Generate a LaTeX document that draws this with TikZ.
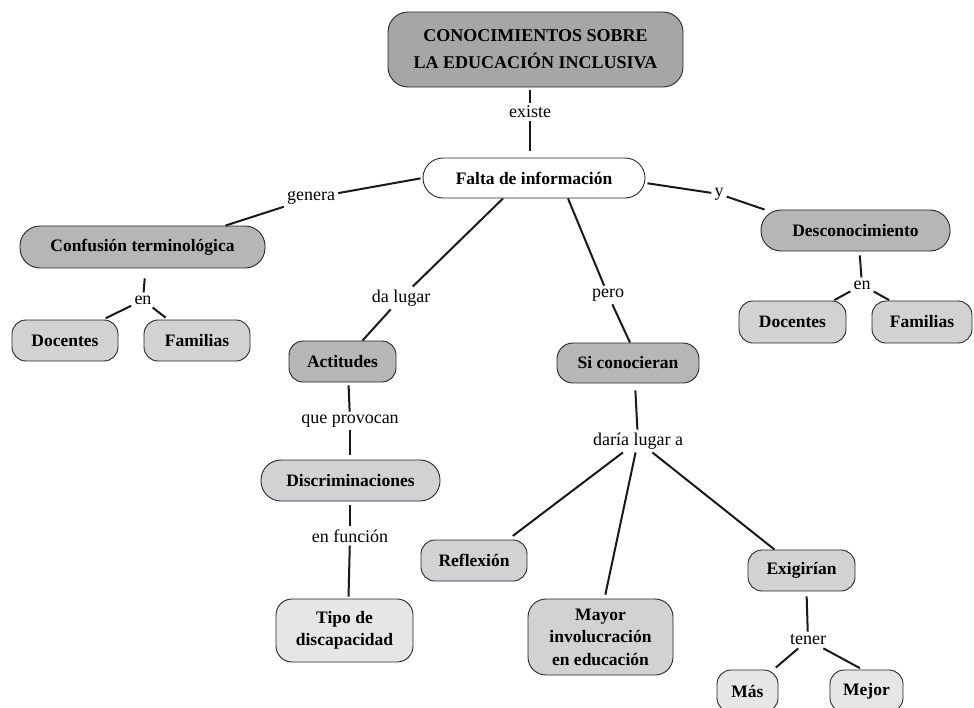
\documentclass[tikz,border=0pt]{standalone}
\usepackage{fontspec}
\setmainfont{Liberation Serif}
\definecolor{lvA}{HTML}{A6A6A8}
\definecolor{lvB}{HTML}{B6B6B8}
\definecolor{lvC}{HTML}{D2D2D4}
\definecolor{lvD}{HTML}{E6E6E8}
\begin{document}
\begin{tikzpicture}[x=1pt,y=-1pt,
  box/.style={draw=black!85, line width=0.9pt, rounded corners=#1, align=center, inner sep=0pt,
     font=\fontsize{17.5}{22.5}\selectfont\bfseries},
  box/.default=14pt,
  lbl/.style={inner sep=3pt, font=\fontsize{18}{20}\selectfont},
  con/.style={line width=2pt, black!90}
]
\useasboundingbox (0,0) rectangle (974,707);
\clip (0,0) rectangle (974,707);
% concepts
\node[box=20pt, fill=lvA, minimum width=295, minimum height=75, font=\fontsize{18}{27}\selectfont\bfseries] (top) at (535.5,49.5) {CONOCIMIENTOS SOBRE\\LA EDUCACIÓN INCLUSIVA};
\node[box=20pt, fill=white, minimum width=222, minimum height=40] (falta) at (534,178) {Falta de información};
\node[box=20pt, fill=lvB, minimum width=245, minimum height=42] (conf) at (142.5,247) {Confusión terminológica};
\node[box, fill=lvC, minimum width=106, minimum height=41] (doca) at (65,340.5) {Docentes};
\node[box, fill=lvC, minimum width=106, minimum height=41] (fama) at (197,340.5) {Familias};
\node[box, fill=lvB, minimum width=107, minimum height=41] (act) at (342.5,361.5) {Actitudes};
\node[box=20pt, fill=lvC, minimum width=179, minimum height=41] (discr) at (350.5,480.5) {Discriminaciones};
\node[box=16pt, fill=lvD, minimum width=137, minimum height=63] (tipo) at (344.5,630.5) {Tipo de\\discapacidad};
\node[box=16pt, fill=lvB, minimum width=142, minimum height=40] (sicon) at (628,363) {Si conocieran};
\node[box, fill=lvC, minimum width=106, minimum height=41] (refl) at (474,560.5) {Reflexión};
\node[box=18pt, fill=lvC, minimum width=145, minimum height=76] (mayor) at (600.5,637) {Mayor\\involucración\\en educación};
\node[box, fill=lvC, minimum width=107, minimum height=41] (exig) at (801.5,570.5) {Exigirían};
\node[box, fill=lvD, minimum width=61, minimum height=42] (mas) at (747.5,691) {Más};
\node[box, fill=lvD, minimum width=73, minimum height=42] (mejor) at (866.5,691) {Mejor};
\node[box=20pt, fill=lvB, minimum width=189, minimum height=41] (desc) at (855.5,230.5) {Desconocimiento};
\node[box, fill=lvC, minimum width=107, minimum height=42] (docb) at (792.5,322) {Docentes};
\node[box, fill=lvC, minimum width=100, minimum height=42] (famb) at (922,322) {Familias};
% link labels
\node[lbl] (existe) at (530,112) {existe};
\node[lbl] (genera) at (311,198) {genera};
\node[lbl] (dalugar) at (401,298) {da lugar};
\node[lbl] (pero) at (608,295) {pero};
\node[lbl] (ylbl) at (719,194) {y};
\node[lbl] (ena) at (143,300) {en};
\node[lbl] (enb) at (862,285) {en};
\node[lbl] (queprov) at (350,421) {que provocan};
\node[lbl] (enfun) at (350,536) {en función};
\node[lbl] (daria) at (638,441) {daría lugar a};
\node[lbl] (tener) at (808,640) {tener};
% connectors
\draw[con, shorten <=3pt] (top.south -| existe) -- (existe);
\draw[con, shorten >=7pt] (existe) -- (falta.north -| existe);
\draw[con, shorten <=2pt] (falta.west) -- (genera);
\draw[con] (genera) -- ([xshift=83pt]conf.north);
\draw[con] ([xshift=-31pt]falta.south) -- (dalugar);
\draw[con] (dalugar) -- ([xshift=20pt]act.north);
\draw[con] ([xshift=34pt]falta.south) -- (pero);
\draw[con] (pero) -- ([xshift=2pt]sicon.north);
\draw[con, shorten <=2pt] ([yshift=-5pt]falta.east) -- (ylbl);
\draw[con] (ylbl) -- ([xshift=4pt]desc.north west);
\draw[con, shorten <=10pt] ([xshift=3pt]conf.south) -- (ena);
\draw[con, shorten >=3pt] (ena) -- ([xshift=38pt]doca.north);
\draw[con, shorten >=3pt] (ena) -- ([xshift=-29pt]fama.north);
\draw[con, shorten <=3pt] ([xshift=6pt]act.south) -- (queprov);
\draw[con, shorten >=5pt] (queprov) -- (discr.north -| queprov);
\draw[con, shorten <=4pt] (discr.south -| enfun) -- (enfun);
\draw[con, shorten >=2pt] (enfun) -- ([xshift=4pt]tipo.north);
\draw[con, shorten <=7pt] ([xshift=7pt]sicon.south) -- (daria);
\draw[con, shorten >=6pt] (daria) -- ([xshift=34pt]refl.north);
\draw[con, shorten >=4pt] (daria) -- ([xshift=4pt]mayor.north);
\draw[con] (daria) -- ([xshift=-27pt]exig.north);
\draw[con, shorten <=5pt] ([xshift=5pt]exig.south) -- (tener);
\draw[con, shorten >=3pt] (tener) -- ([xshift=26pt]mas.north);
\draw[con, shorten >=3pt] (tener) -- ([xshift=-4pt]mejor.north);
\draw[con, shorten <=4pt] ([xshift=4pt]desc.south) -- (enb);
\draw[con, shorten >=1pt] (enb) -- ([xshift=41pt]docb.north);
\draw[con, shorten >=1pt] (enb) -- ([xshift=-32pt]famb.north);
\end{tikzpicture}
\end{document}
